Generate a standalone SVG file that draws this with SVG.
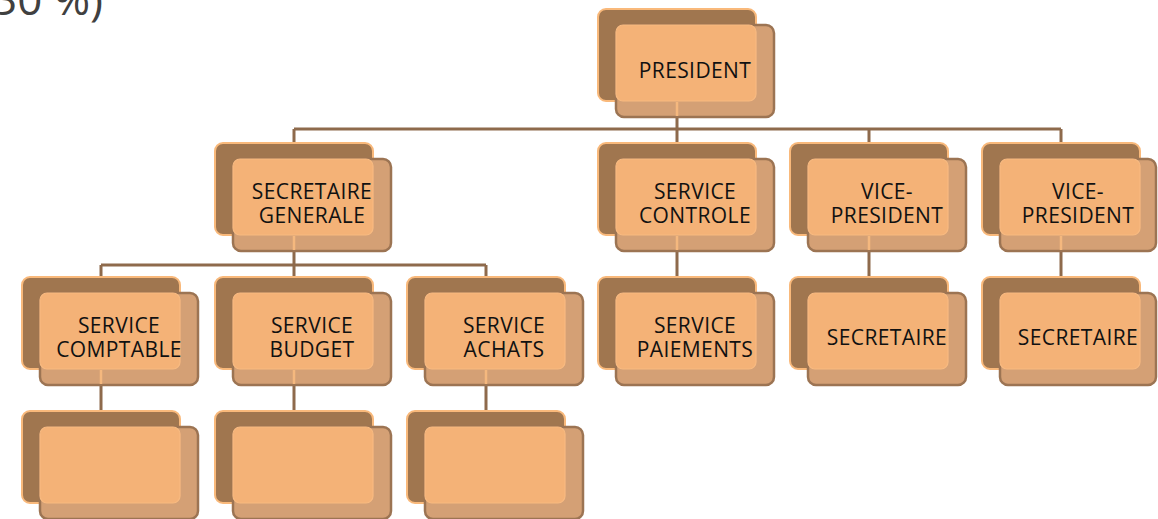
<svg xmlns="http://www.w3.org/2000/svg" width="1158" height="519" viewBox="0 0 1158 519">
<style>
.bk{fill:#A0764F;stroke:#F9B97B;stroke-width:2}
.fr{fill:#D4A075;stroke:#9C7453;stroke-width:2.5}
.in{fill:#F4B277;stroke:#F8BA80;stroke-width:1.2}
.lt{stroke:#F5B87E;stroke-width:2.5}
.cn{stroke:#8E6A4C;stroke-width:3;fill:none}
.t{font-family:"Open Sans","Noto Sans",sans-serif;font-size:21px;fill:#111111;text-anchor:middle;letter-spacing:0.4px}
</style>
<rect width="1158" height="519" fill="#FFFFFF"/>
<text x="-8" y="15" font-family="'Open Sans','Noto Sans',sans-serif" font-size="44" fill="#404040">30 %)</text>
<g id="connectors" class="cn">
<path d="M677 101V129M294 129H1061M294 129V143M677 129V143M869 129V143M1061 129V143"/>
<path d="M294 235V265M101 265H486M101 265V277M294 265V277M486 265V277"/>
<path d="M677 235V277M869 235V277M1061 235V277"/>
<path d="M101 369V411M294 369V411M486 369V411"/>
</g>
<g id="president"><rect class="bk" x="598" y="9" width="158" height="92" rx="8"/><rect class="fr" x="616" y="25" width="158" height="92" rx="8"/><rect class="in" x="616" y="25" width="140" height="76" rx="7"/><line class="lt" x1="677" y1="102" x2="677" y2="116"/><text class="t" x="695" y="77.5">PRESIDENT</text></g>
<g id="secretaire-generale"><rect class="bk" x="215" y="143" width="158" height="92" rx="8"/><rect class="fr" x="233" y="159" width="158" height="92" rx="8"/><rect class="in" x="233" y="159" width="140" height="76" rx="7"/><line class="lt" x1="294" y1="236" x2="294" y2="250"/><text class="t" x="312" y="198.5">SECRETAIRE</text><text class="t" x="312" y="223">GENERALE</text></g>
<g id="service-controle"><rect class="bk" x="598" y="143" width="158" height="92" rx="8"/><rect class="fr" x="616" y="159" width="158" height="92" rx="8"/><rect class="in" x="616" y="159" width="140" height="76" rx="7"/><line class="lt" x1="677" y1="236" x2="677" y2="250"/><text class="t" x="695" y="198.5">SERVICE</text><text class="t" x="695" y="223">CONTROLE</text></g>
<g id="vice-president-1"><rect class="bk" x="790" y="143" width="158" height="92" rx="8"/><rect class="fr" x="808" y="159" width="158" height="92" rx="8"/><rect class="in" x="808" y="159" width="140" height="76" rx="7"/><line class="lt" x1="869" y1="236" x2="869" y2="250"/><text class="t" x="887" y="198.5">VICE-</text><text class="t" x="887" y="223">PRESIDENT</text></g>
<g id="vice-president-2"><rect class="bk" x="982" y="143" width="158" height="92" rx="8"/><rect class="fr" x="1000" y="159" width="156" height="92" rx="8"/><rect class="in" x="1000" y="159" width="140" height="76" rx="7"/><line class="lt" x1="1061" y1="236" x2="1061" y2="250"/><text class="t" x="1078" y="198.5">VICE-</text><text class="t" x="1078" y="223">PRESIDENT</text></g>
<g id="service-comptable"><rect class="bk" x="22" y="277" width="158" height="92" rx="8"/><rect class="fr" x="40" y="293" width="158" height="92" rx="8"/><rect class="in" x="40" y="293" width="140" height="76" rx="7"/><line class="lt" x1="101" y1="370" x2="101" y2="384"/><text class="t" x="119" y="332.5">SERVICE</text><text class="t" x="119" y="357">COMPTABLE</text></g>
<g id="service-budget"><rect class="bk" x="215" y="277" width="158" height="92" rx="8"/><rect class="fr" x="233" y="293" width="158" height="92" rx="8"/><rect class="in" x="233" y="293" width="140" height="76" rx="7"/><line class="lt" x1="294" y1="370" x2="294" y2="384"/><text class="t" x="312" y="332.5">SERVICE</text><text class="t" x="312" y="357">BUDGET</text></g>
<g id="service-achats"><rect class="bk" x="407" y="277" width="158" height="92" rx="8"/><rect class="fr" x="425" y="293" width="158" height="92" rx="8"/><rect class="in" x="425" y="293" width="140" height="76" rx="7"/><line class="lt" x1="486" y1="370" x2="486" y2="384"/><text class="t" x="504" y="332.5">SERVICE</text><text class="t" x="504" y="357">ACHATS</text></g>
<g id="service-paiements"><rect class="bk" x="598" y="277" width="158" height="92" rx="8"/><rect class="fr" x="616" y="293" width="158" height="92" rx="8"/><rect class="in" x="616" y="293" width="140" height="76" rx="7"/><text class="t" x="695" y="332.5">SERVICE</text><text class="t" x="695" y="357">PAIEMENTS</text></g>
<g id="secretaire-1"><rect class="bk" x="790" y="277" width="158" height="92" rx="8"/><rect class="fr" x="808" y="293" width="158" height="92" rx="8"/><rect class="in" x="808" y="293" width="140" height="76" rx="7"/><text class="t" x="887" y="345">SECRETAIRE</text></g>
<g id="secretaire-2"><rect class="bk" x="982" y="277" width="158" height="92" rx="8"/><rect class="fr" x="1000" y="293" width="156" height="92" rx="8"/><rect class="in" x="1000" y="293" width="140" height="76" rx="7"/><text class="t" x="1078" y="345">SECRETAIRE</text></g>
<g id="empty-1"><rect class="bk" x="22" y="411" width="158" height="92" rx="8"/><rect class="fr" x="40" y="427" width="158" height="92" rx="8"/><rect class="in" x="40" y="427" width="140" height="76" rx="7"/></g>
<g id="empty-2"><rect class="bk" x="215" y="411" width="158" height="92" rx="8"/><rect class="fr" x="233" y="427" width="158" height="92" rx="8"/><rect class="in" x="233" y="427" width="140" height="76" rx="7"/></g>
<g id="empty-3"><rect class="bk" x="407" y="411" width="158" height="92" rx="8"/><rect class="fr" x="425" y="427" width="158" height="92" rx="8"/><rect class="in" x="425" y="427" width="140" height="76" rx="7"/></g>
</svg>
